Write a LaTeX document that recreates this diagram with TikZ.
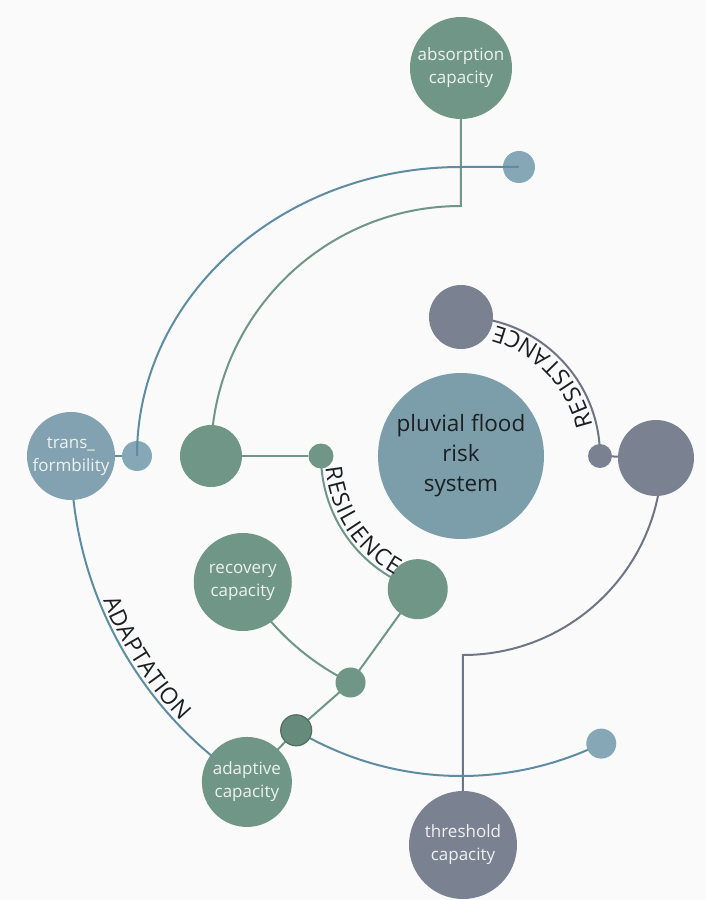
\documentclass[tikz,border=0pt]{standalone}
\usepackage{fontspec}
\setmainfont{Open Sans}
\usetikzlibrary{decorations.text}
\pgfdeclarelayer{back}
\pgfdeclarelayer{bg}
\pgfdeclarelayer{fg}
\pgfsetlayers{back,bg,main,fg}
\definecolor{bgc}{HTML}{FAFAFA}
\definecolor{gfill}{HTML}{6F9686}
\definecolor{gdark}{HTML}{4E6F62}
\definecolor{pfill}{HTML}{7C9EAB}
\definecolor{tfill}{HTML}{82A2B1}
\definecolor{dotfill}{HTML}{86A7B6}
\definecolor{kfill}{HTML}{7A8191}
\definecolor{gline}{HTML}{6F9686}
\definecolor{bline}{HTML}{5E8CA2}
\definecolor{kline}{HTML}{6E7585}
\definecolor{lighttext}{HTML}{EEF2F0}
\definecolor{darktext}{HTML}{1B1F22}
\newcommand\circfont{\fontsize{17}{23}\selectfont}
\newcommand\bigfont{\fontsize{22.5}{30}\selectfont}
\newcommand\arcfont{\fontsize{23}{23}\selectfont}
\begin{document}
\begin{tikzpicture}[x=1pt,y=1pt,
  disc/.style={circle,inner sep=0pt,draw=none},
  gdisc/.style={disc,fill=gfill},
  kdisc/.style={disc,fill=kfill},
  bdisc/.style={disc,fill=dotfill},
  ctext/.style={text=lighttext,font=\circfont,align=center},
  glink/.style={draw=gline,line width=2pt},
  blink/.style={draw=bline,line width=2pt},
  klink/.style={draw=kline,line width=2pt},
  arclabel/.style={decorate,decoration={text along path,text={|\arcfont|#1},text align={fit to path},text color=darktext}}
]
\begin{pgfonlayer}{back}
\fill[bgc] (-461,-444) rectangle (245,456);
\end{pgfonlayer}
\useasboundingbox (-461,-444) rectangle (245,456);

% nodes
\node[gdisc,minimum size=102pt,ctext] (absorption) at (0,388) {absorption\\capacity};
\node[bdisc,minimum size=32pt] (topdot) at (58,289) {};
\node[kdisc,minimum size=64pt] (darkTop) at (0,139) {};
\node[kdisc,minimum size=76pt] (darkRight) at (195,-2) {};
\node[kdisc,minimum size=24pt] (dotRes) at (139,0) {};
\node[disc,fill=pfill,minimum size=166pt,text=darktext,font=\bigfont,align=center] (pluvial) at (0,0) {pluvial flood\\risk\\system};
\node[disc,fill=tfill,minimum size=88pt,ctext] (trans) at (-390,0) {trans\_\\formbility};
\node[bdisc,minimum size=30pt] (transdot) at (-324,0) {};
\node[gdisc,minimum size=62pt] (greenL) at (-250,0) {};
\node[gdisc,minimum size=25pt] (greenDot) at (-140,0) {};
\node[gdisc,minimum size=60pt] (greenBR) at (252:140) {};
\node[gdisc,minimum size=98pt,ctext] (recovery) at (210:252) {recovery\\capacity};
\node[gdisc,minimum size=30pt] (midDot) at (244:252) {};
\node[disc,fill=gfill!92!black,draw=gdark,line width=1.2pt,minimum size=31pt] (darkDot) at (239:320) {};
\node[gdisc,minimum size=90pt,ctext] (adaptive) at (236.7:390) {adaptive\\capacity};
\node[bdisc,minimum size=30pt] (blueDotBR) at (296:320) {};
\node[kdisc,minimum size=108pt,ctext] (threshold) at (2,-389) {threshold\\capacity};

\coordinate (absTurn) at (0,250);
\coordinate (blueTurn) at (0,289);
\coordinate (thrTurn) at (2,-199);

% connectors
\begin{pgfonlayer}{bg}
\draw[glink] (absorption.center) -- (absTurn) arc[start angle=90,end angle=180,radius=250];
\draw[blink] (trans) -- (transdot);
\draw[glink] (greenL) -- (greenDot);
\draw[glink] (greenDot.center) arc[start angle=180,end angle=252,radius=140];
\draw[klink] (dotRes.center) arc[start angle=0,end angle=90,radius=139];
\draw[klink] (dotRes) -- (darkRight);
\draw[klink] (threshold.center) -- (thrTurn) arc[start angle=270,end angle=360,radius=199];
\draw[glink] (recovery.center) arc[start angle=210,end angle=244,radius=252];
\draw[glink] (adaptive.center) -- (darkDot.center) -- (midDot.center) -- (greenBR.center);
\draw[blink] (darkDot.center) arc[start angle=239,end angle=296,radius=320];
\draw[blink] (trans.center) arc[start angle=180,end angle=236.7,radius=390];
\end{pgfonlayer}
\begin{pgfonlayer}{fg}
\draw[blink] (topdot.center) -- (blueTurn) arc[start angle=90,end angle=180,x radius=324,y radius=289];
\end{pgfonlayer}

% arc labels
\path[arclabel=RESISTANCE] (13:135) arc[start angle=13,end angle=75,radius=135];
\path[arclabel=RESILIENCE] (185:136) arc[start angle=185,end angle=241,radius=136];
\path[arclabel=ADAPTATION] (202:386) arc[start angle=202,end angle=223.5,radius=386];
\end{tikzpicture}
\end{document}
